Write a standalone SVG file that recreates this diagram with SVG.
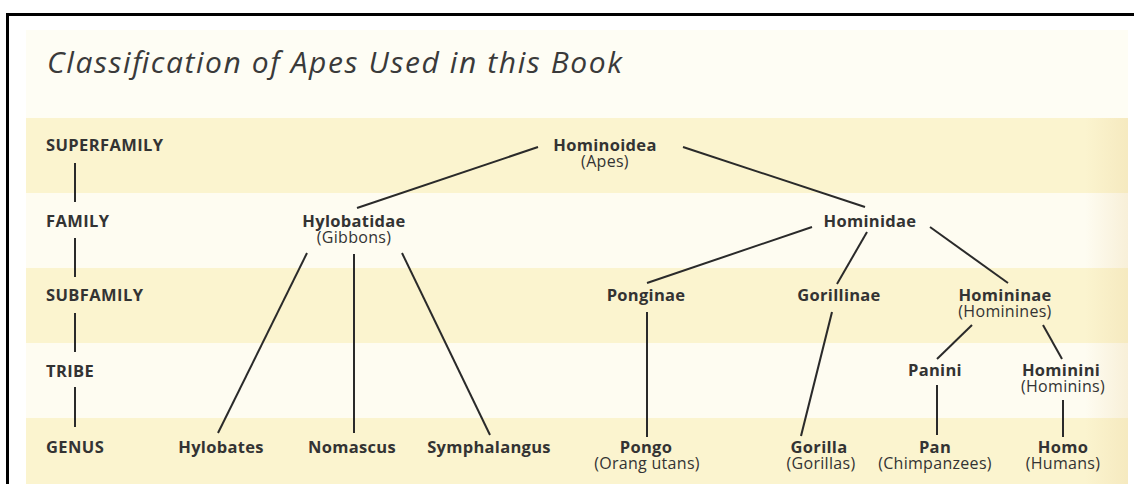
<svg xmlns="http://www.w3.org/2000/svg" width="1134" height="484" viewBox="0 0 1134 484">
  <defs>
    <linearGradient id="edgeShade" x1="0" y1="0" x2="1" y2="0">
      <stop offset="0" stop-color="#e8cf98" stop-opacity="0"/>
      <stop offset="1" stop-color="#e8cf98" stop-opacity="0.28"/>
    </linearGradient>
    <style>
      .band-dark { fill: #fbf4cf; }
      .band-light { fill: #fefcf1; }
      .title { font-family: "Open Sans", "Liberation Sans", sans-serif; font-style: italic; font-size: 30px; fill: #3a3a3a; }
      .rank { font-family: "Open Sans", "Liberation Sans", sans-serif; font-weight: 700; font-size: 16.5px; letter-spacing: 0.4px; fill: #333; }
      .name { font-family: "Open Sans", "Liberation Sans", sans-serif; font-weight: 700; font-size: 16.5px; letter-spacing: 0.3px; fill: #333; text-anchor: middle; }
      .common { font-family: "Open Sans", "Liberation Sans", sans-serif; font-size: 16px; letter-spacing: 0.3px; fill: #333; text-anchor: middle; }
      .edge { stroke: #2a2a2a; stroke-width: 2; stroke-linecap: butt; fill: none; }
    </style>
  </defs>

  <!-- page -->
  <rect x="0" y="0" width="1134" height="484" fill="#ffffff"/>

  <!-- background bands -->
  <g id="bands">
    <rect x="26" y="30" width="1102" height="88" fill="#fefdf4"/>
    <rect class="band-dark" x="26" y="118" width="1102" height="75"/>
    <rect class="band-light" x="26" y="193" width="1102" height="75"/>
    <rect class="band-dark" x="26" y="268" width="1102" height="75"/>
    <rect class="band-light" x="26" y="343" width="1102" height="75"/>
    <rect class="band-dark" x="26" y="418" width="1102" height="66"/>
    <rect x="1085" y="118" width="43" height="366" fill="url(#edgeShade)"/>
  </g>

  <!-- frame -->
  <g id="frame" stroke="#000" stroke-width="3" fill="none">
    <line x1="7.5" y1="14.5" x2="1134" y2="14.5"/>
    <line x1="7.5" y1="13" x2="7.5" y2="484"/>
  </g>

  <text id="title" class="title" x="47" y="73" textLength="575">Classification of Apes Used in this Book</text>

  <!-- rank scale on the left -->
  <g id="ranks">
    <text class="rank" x="46" y="151">SUPERFAMILY</text>
    <text class="rank" x="46" y="227">FAMILY</text>
    <text class="rank" x="46" y="301">SUBFAMILY</text>
    <text class="rank" x="46" y="377">TRIBE</text>
    <text class="rank" x="46" y="453">GENUS</text>
    <g class="edge">
      <line x1="75" y1="163" x2="75" y2="202"/>
      <line x1="75" y1="238" x2="75" y2="277"/>
      <line x1="75" y1="313" x2="75" y2="352"/>
      <line x1="75" y1="387" x2="75" y2="427"/>
    </g>
  </g>

  <!-- connectors -->
  <g id="connectors" class="edge">
    <line x1="538" y1="147" x2="357" y2="208"/>
    <line x1="683" y1="147" x2="865" y2="207"/>
    <line x1="307" y1="253" x2="218" y2="433"/>
    <line x1="354" y1="254" x2="354" y2="433"/>
    <line x1="402" y1="253" x2="490" y2="435"/>
    <line x1="812" y1="227" x2="647" y2="283"/>
    <line x1="867" y1="232" x2="837" y2="284"/>
    <line x1="930" y1="227" x2="1008" y2="283"/>
    <line x1="647" y1="312" x2="647" y2="437"/>
    <line x1="832" y1="312" x2="801" y2="436"/>
    <line x1="972" y1="325" x2="937" y2="359"/>
    <line x1="1043" y1="325" x2="1062" y2="359"/>
    <line x1="937" y1="385" x2="937" y2="435"/>
    <line x1="1063" y1="400" x2="1063" y2="437"/>
  </g>

  <!-- taxa -->
  <g id="hominoidea"><text class="name" x="605" y="151">Hominoidea</text><text class="common" x="605" y="167">(Apes)</text></g>
  <g id="hylobatidae"><text class="name" x="354" y="227">Hylobatidae</text><text class="common" x="354" y="243">(Gibbons)</text></g>
  <g id="hominidae"><text class="name" x="870" y="227">Hominidae</text></g>
  <g id="ponginae"><text class="name" x="646" y="301">Ponginae</text></g>
  <g id="gorillinae"><text class="name" x="839" y="301">Gorillinae</text></g>
  <g id="homininae"><text class="name" x="1005" y="301">Homininae</text><text class="common" x="1005" y="317">(Hominines)</text></g>
  <g id="panini"><text class="name" x="935" y="376">Panini</text></g>
  <g id="hominini"><text class="name" x="1061" y="376">Hominini</text><text class="common" x="1063" y="392">(Hominins)</text></g>
  <g id="hylobates"><text class="name" x="221" y="453">Hylobates</text></g>
  <g id="nomascus"><text class="name" x="352" y="453">Nomascus</text></g>
  <g id="symphalangus"><text class="name" x="489" y="453">Symphalangus</text></g>
  <g id="pongo"><text class="name" x="646" y="453">Pongo</text><text class="common" x="647" y="469">(Orang utans)</text></g>
  <g id="gorilla"><text class="name" x="819" y="453">Gorilla</text><text class="common" x="821" y="469">(Gorillas)</text></g>
  <g id="pan"><text class="name" x="935" y="453">Pan</text><text class="common" x="935" y="469">(Chimpanzees)</text></g>
  <g id="homo"><text class="name" x="1063" y="453">Homo</text><text class="common" x="1063" y="469">(Humans)</text></g>
</svg>
